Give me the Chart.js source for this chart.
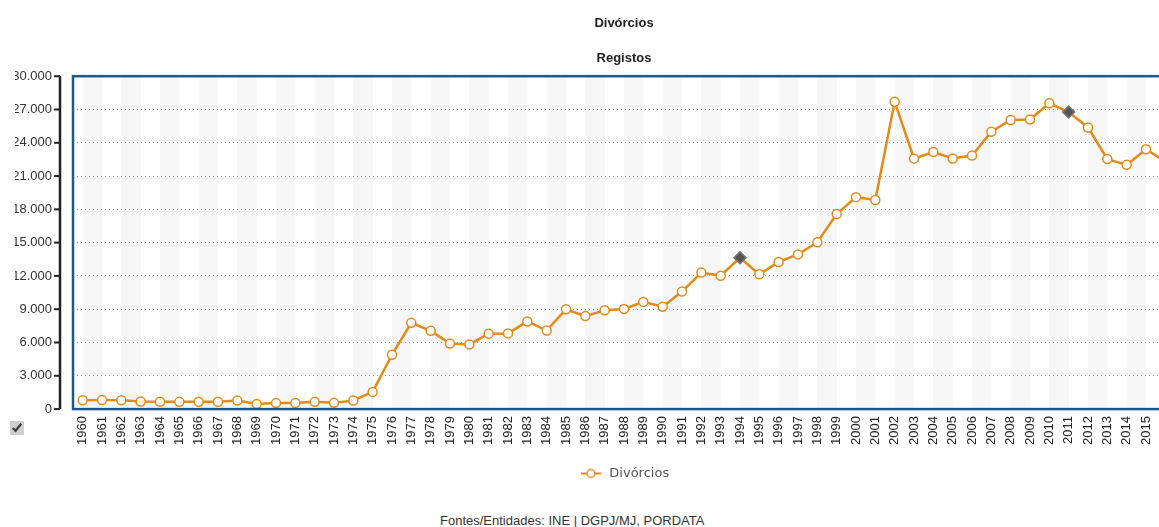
<!DOCTYPE html>
<html lang="pt">
<head>
<meta charset="utf-8">
<title>Divórcios</title>
<script src="https://cdn.jsdelivr.net/npm/chart.js@4.4.1/dist/chart.umd.min.js"></script>
<style>
  html, body { margin: 0; padding: 0; background: #fff; overflow: hidden; }
  body { width: 1159px; height: 527px; position: relative; }
  #wrap { position: absolute; left: 0; top: 0; width: 1244px; height: 500px; }
  #marcar { position: absolute; left: 10px; top: 421px; width: 14px; height: 14px; margin: 0; accent-color: #cfcfcf; }
  #fontes { position: absolute; left: 440px; top: 513px; font: 13px "Liberation Sans", Arial, sans-serif; color: #333; white-space: nowrap; }
</style>
</head>
<body>
<div id="wrap"><canvas id="grafico"></canvas></div>
<input type="checkbox" id="marcar" checked>
<div id="fontes">Fontes/Entidades: INE | DGPJ/MJ, PORDATA</div>
<script>
const anos = [
  "1960", "1961", "1962", "1963", "1964", "1965", "1966", "1967", "1968", "1969",
  "1970", "1971", "1972", "1973", "1974", "1975", "1976", "1977", "1978", "1979",
  "1980", "1981", "1982", "1983", "1984", "1985", "1986", "1987", "1988", "1989",
  "1990", "1991", "1992", "1993", "1994", "1995", "1996", "1997", "1998", "1999",
  "2000", "2001", "2002", "2003", "2004", "2005", "2006", "2007", "2008", "2009",
  "2010", "2011", "2012", "2013", "2014", "2015", "2016"
];

const divorcios = [
  800, 810, 800, 680, 660, 650, 660, 660, 780, 460,
  540, 550, 650, 560, 780, 1550, 4900, 7770, 7050, 5900,
  5830, 6800, 6820, 7900, 7080, 9000, 8380, 8900, 9020, 9660,
  9220, 10590, 12300, 12020, 13640, 12140, 13260, 13940, 15040, 17570,
  19100, 18850, 27700, 22570, 23170, 22580, 22850, 25000, 26050, 26100,
  27560, 26770, 25380, 22530, 22010, 23420, 22300
];

// anos assinalados com losango
const anosDestaque = ["1994", "2011"];

const eixoY = { min: 0, max: 30000, passo: 3000 };

const laranja = "#e68a16";
const fonte = '"Liberation Sans", Arial, sans-serif';

function formatarMilhares(valor) {
  return String(valor).replace(/\B(?=(\d{3})+(?!\d))/g, ".");
}

// simbolo da legenda: linha com circulo
function simboloLegenda() {
  const c = document.createElement("canvas");
  c.width = 24;
  c.height = 12;
  const g = c.getContext("2d");
  g.strokeStyle = laranja;
  g.lineWidth = 2;
  g.beginPath();
  g.moveTo(2, 6);
  g.lineTo(22, 6);
  g.stroke();
  g.beginPath();
  g.arc(12, 6, 4, 0, Math.PI * 2);
  g.fillStyle = "#fff";
  g.fill();
  g.lineWidth = 1.5;
  g.stroke();
  return c;
}

const fundoEMolduras = {
  id: "fundoEMolduras",
  beforeDraw(chart) {
    const { ctx, chartArea } = chart;
    const x = chart.scales.x;
    ctx.save();
    ctx.fillStyle = "#f7f7f7";
    for (let i = 0; i < anos.length; i += 2) {
      const x0 = x.getPixelForValue(i);
      const x1 = Math.min(x.getPixelForValue(i + 1), chartArea.right);
      ctx.fillRect(x0, chartArea.top, x1 - x0, chartArea.bottom - chartArea.top);
    }
    ctx.restore();
  },
  afterDraw(chart) {
    const { ctx, chartArea } = chart;
    const y = chart.scales.y;
    ctx.save();
    // eixo vertical preto
    const xEixo = chartArea.left - 13;
    ctx.strokeStyle = "#222";
    ctx.lineWidth = 2.5;
    ctx.beginPath();
    ctx.moveTo(xEixo, chartArea.top);
    ctx.lineTo(xEixo, chartArea.bottom);
    ctx.stroke();
    ctx.lineWidth = 2;
    y.ticks.forEach((t) => {
      const py = y.getPixelForValue(t.value);
      ctx.beginPath();
      ctx.moveTo(xEixo - 6, py);
      ctx.lineTo(xEixo, py);
      ctx.stroke();
    });
    // moldura azul da area do grafico
    ctx.strokeStyle = "#1d5a8a";
    ctx.lineWidth = 2.5;
    ctx.strokeRect(chartArea.left, chartArea.top, chartArea.right - chartArea.left, chartArea.bottom - chartArea.top);
    ctx.restore();
  },
};

const ctx = document.getElementById("grafico").getContext("2d");
const grafico = new Chart(ctx, {
  type: "line",
  data: {
    labels: anos,
    datasets: [
      {
        label: "Divórcios",
        data: divorcios,
        borderColor: laranja,
        borderWidth: 2.5,
        backgroundColor: "#fff",
        tension: 0,
        pointStyle: (c) => (anosDestaque.includes(anos[c.dataIndex]) ? "rectRot" : "circle"),
        pointRadius: (c) => (anosDestaque.includes(anos[c.dataIndex]) ? 6 : 4.5),
        pointBackgroundColor: (c) => (anosDestaque.includes(anos[c.dataIndex]) ? "#555" : "#fff"),
        pointBorderColor: (c) => (anosDestaque.includes(anos[c.dataIndex]) ? "#777" : laranja),
        pointBorderWidth: 1.5,
      },
    ],
  },
  options: {
    responsive: true,
    maintainAspectRatio: false,
    animation: false,
    layout: { padding: { left: 15, right: 69, top: 0, bottom: 10 } },
    plugins: {
      title: {
        display: true,
        fullSize: false,
        text: "Divórcios",
        color: "#222",
        font: { family: fonte, size: 13, weight: "bold" },
        padding: { top: 16, bottom: 0 },
      },
      subtitle: {
        display: true,
        fullSize: false,
        text: "Registos",
        color: "#222",
        font: { family: fonte, size: 13, weight: "bold" },
        padding: { top: 19, bottom: 10 },
      },
      legend: {
        display: true,
        fullSize: false,
        position: "bottom",
        labels: {
          usePointStyle: true,
          pointStyleWidth: 24,
          padding: 15,
          color: "#555",
          font: { family: '"DejaVu Sans", Verdana, sans-serif', size: 13 },
          generateLabels: (chart) => [
            {
              text: "Divórcios",
              pointStyle: simboloLegenda(),
              fontColor: "#555",
              datasetIndex: 0,
              lineWidth: 0,
            },
          ],
        },
      },
      tooltip: { enabled: false },
    },
    scales: {
      x: {
        type: "category",
        offset: true,
        grid: { display: false, drawTicks: false },
        border: { display: false },
        ticks: {
          autoSkip: false,
          minRotation: 90,
          maxRotation: 90,
          padding: 7,
          color: "#222",
          font: { family: fonte, size: 13 },
        },
      },
      y: {
        min: eixoY.min,
        max: eixoY.max,
        afterFit: (escala) => {
          escala.width = 58;
        },
        grid: { color: "#999", lineWidth: 1, drawTicks: false },
        border: { display: false, dash: [1, 3] },
        ticks: {
          stepSize: eixoY.passo,
          padding: 21,
          color: "#333",
          font: { family: fonte, size: 13 },
          callback: (v) => formatarMilhares(v),
        },
      },
    },
  },
  plugins: [fundoEMolduras],
});
</script>
</body>
</html>
